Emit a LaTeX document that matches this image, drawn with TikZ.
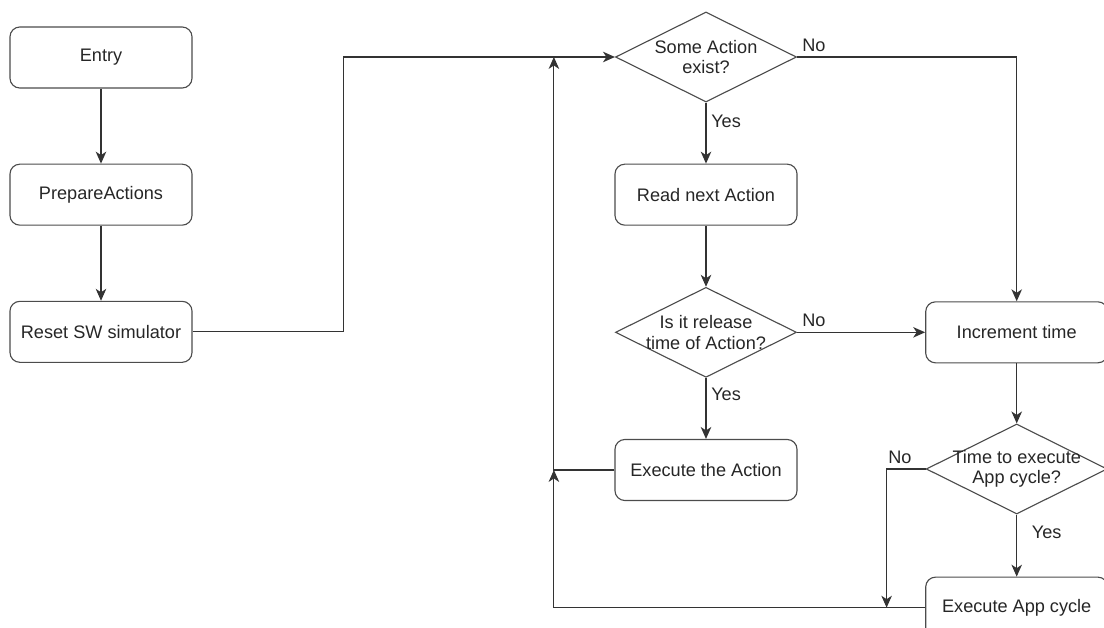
\documentclass[tikz,border=0pt]{standalone}
\usepackage{fontspec}
\setmainfont{Liberation Sans}
\usetikzlibrary{arrows.meta, positioning, shapes.geometric}
\tikzset{
  box/.style={draw=black!70, line width=0.8pt, rounded corners=7pt, minimum width=4.55cm, minimum height=1.525cm, text=black!85},
  dia/.style={draw=black!70, line width=0.8pt, diamond, minimum width=4.525cm, minimum height=2.25cm, inner sep=0pt},
  dtext/.style={align=center, text=black!85},
  arr/.style={-{Stealth[length=8.5pt, width=7.5pt, inset=2.5pt]}, line width=0.8pt, draw=black!80},
  lab/.style={text=black!85},
}
\begin{document}
\begin{tikzpicture}[x=0.025cm, y=-0.025cm, font=\fontsize{12.9pt}{14.5pt}\selectfont, node distance=1.525cm]
    \useasboundingbox (0,0) rectangle (1104,627);
    % left column
    \node[box] (entry) at (101,57.5) {Entry};
    \node[box, below=1.875cm of entry] (prep) {PrepareActions};
    \node[box, below=1.875cm of prep] (reset) {Reset SW simulator};
    % middle column
    \node[dia, label={[dtext]center:Some Action\\exist?}] (exist) at (706,57) {};
    \node[box, below=of exist] (readnext) {Read next Action};
    \node[dia, below=of readnext, label={[dtext]center:Is it release\\time of Action?}] (release) {};
    \node[box, below=of release] (execact) {Execute the Action};
    % right column
    \node[box, right=3.2cm of release] (inc) {Increment time};
    \node[dia, below=1.5cm of inc, label={[dtext]center:Time to execute\\App cycle?}] (appq) {};
    \node[box, below=1.55cm of appq] (appcyc) {Execute App cycle};
    % join points
    \coordinate[left=1.525cm of exist.west] (j1);
    \coordinate (j2) at (j1 |- execact.west);
    \coordinate[left=0.975cm of appq.west] (j3);
    % connectors
    \draw[arr] (entry) -- (prep);
    \draw[arr] (prep) -- (reset);
    \draw[arr] (reset.east) -- ++(151,0) |- (exist.west);
    \draw[arr] (exist.east) -| node[lab, above right, pos=0] {No} (inc.north);
    \draw[arr] (exist) -- node[lab, right, pos=0.3] {Yes} (readnext);
    \draw[arr] (readnext) -- (release);
    \draw[arr] (release) -- node[lab, above right, pos=0] {No} (inc);
    \draw[arr] (release) -- node[lab, right, pos=0.27] {Yes} (execact);
    \draw[arr] (execact.west) -| (j1);
    \draw[arr] (inc) -- (appq);
    \draw[arr] (appq) -- node[lab, right=7pt, pos=0.29] {Yes} (appcyc);
    \draw[arr] (appq.west) -| node[lab, above, pos=0.33] {No} (j3 |- appcyc.west);
    \draw[arr] (appcyc.west) -| (j2);
\end{tikzpicture}
\end{document}
